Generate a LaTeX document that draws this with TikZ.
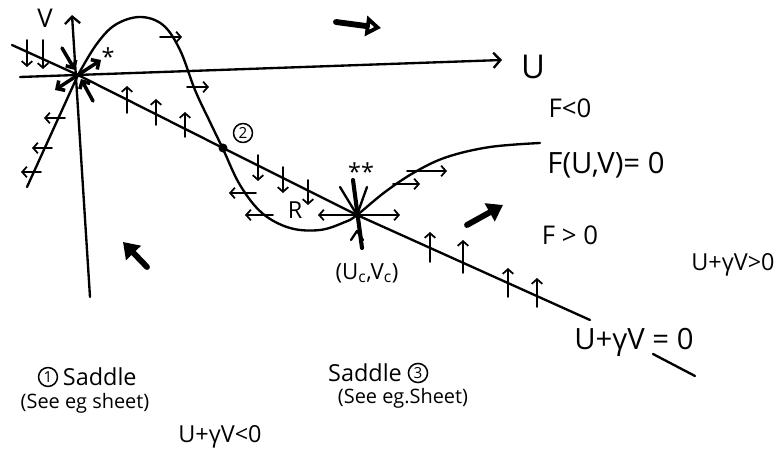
\documentclass[tikz,border=0pt]{standalone}
\usepackage{fontspec}
\setmainfont{Open Sans}
\usetikzlibrary{arrows.meta,positioning}

\begin{document}
\begin{tikzpicture}[
        x=0.03cm, y=-0.03cm,
        line width=2pt, line cap=round, line join=round,
        axis/.style={-{Straight Barb[length=6pt,width=13pt]}},
        flow/.style={-{Straight Barb[length=4pt,width=9pt]}, line width=1.5pt},
        stubby/.style={-{Straight Barb[length=5pt,width=10pt]}, line width=3pt},
        bold/.style={-{Triangle[length=13pt,width=17pt]}, line width=5pt},
        every node/.style={inner sep=1pt},
        lbl/.style={font=\fontsize{20}{22}\selectfont},
        big/.style={font=\fontsize{25}{28}\selectfont},
        small/.style={font=\fontsize{17}{19}\selectfont},
        circ/.style={circle, draw, line width=1.3pt, inner sep=1.5pt, font=\fontsize{13}{14}\selectfont}
    ]
    \useasboundingbox (0,0) rectangle (777,455);

    % fixed points
    \coordinate (o) at (78,75);
    \coordinate (p2) at (223,148);
    \coordinate (c) at (357,215);

    % axes
    \coordinate (uL) at (20,77);
    \coordinate (uR) at (502,60);
    \coordinate (vB) at (90,297);
    \coordinate (vT) at (72,15);
    \draw[axis] (uL) -- (uR);
    \draw[axis] (vB) -- (vT);
    \node[font=\fontsize{28}{30}\selectfont] (ulab) at (533,67) {U};
    \node[font=\fontsize{22}{24}\selectfont] (vlab) at (45,18) {V};

    % line u + gamma v = 0 and eigen line
    \coordinate (lA) at (12,45);
    \coordinate (lB) at (590,320);
    \coordinate (eB) at (27,187);
    \draw (lA) -- (o) -- (p2) -- (c) -- (lB);
    \draw (eB) -- (o);

    % F(u,v) = 0
    \draw plot[smooth, tension=0.6] coordinates {(78,75) (96,45) (115,25) (140,17) (163,25) (180,50) (195,90) (210,122) (223,149) (240,185) (262,213) (290,228) (320,230) (345,222) (357,215) (385,192) (415,172) (447,157) (490,147) (540,143)};

    \fill (p2) circle (4.5);
    \node[circ] (n2) at (243,133) {2};

    % saddle at the origin
    \draw[stubby] (o) -- (55,90);
    \draw[stubby] (o) -- (101,60);
    \draw[stubby] (62,48) -- (75,70);
    \draw[stubby] (93,101) -- (81,79);
    \node[lbl] (st1) at (108,57) {*};

    % saddle at (uc,vc)
    \draw[line width=3.5pt] (353,180) -- (362,248);
    \draw (340,187) -- (c) -- (367,187);
    \draw (351,240) -- (357,231) -- (363,240);
    \draw[flow] (c) -- (318,215);
    \draw[flow] (c) -- (400,215);
    \node[lbl] (st2) at (361,172) {**};

    % flow on the axes and lines
    \draw[flow] (27,40) -- (27,67);
    \draw[flow] (43,40) -- (43,69);
    \draw[flow] (65,118) -- (44,118);
    \draw[flow] (52,148) -- (32,148);
    \draw[flow] (41,172) -- (21,172);
    \draw[flow] (127,113) -- (127,86);
    \draw[flow] (156,125) -- (156,99);
    \draw[flow] (185,137) -- (185,112);
    \draw[flow] (258,155) -- (258,181);
    \draw[flow] (283,167) -- (283,193);
    \draw[flow] (308,180) -- (308,205);
    \draw[flow] (430,262) -- (430,232);
    \draw[flow] (463,273) -- (463,240);
    \draw[flow] (508,297) -- (508,268);
    \draw[flow] (537,307) -- (537,278);

    % flow on F = 0
    \draw[flow] (160,37) -- (182,37);
    \draw[flow] (187,87) -- (209,87);
    \draw[flow] (256,193) -- (229,193);
    \draw[flow] (273,215) -- (245,215);
    \draw[flow] (393,184) -- (420,184);
    \draw[flow] (407,171) -- (447,171);
    \node[lbl] (rlab) at (295,210) {R};

    % big arrows
    \draw[bold, -{Triangle[open, length=13pt, width=17pt]}] (336,22) -- (381,28);
    \draw[bold] (147,267) -- (123,242);
    \draw[bold] (467,225) -- (503,205);

    % labels
    \node[font=\fontsize{22}{24}\selectfont] (fneg) at (570,108) {F<0};
    \node[big] (feq) at (606,165) {F(U,V)= 0};
    \node[font=\fontsize{22}{24}\selectfont] (fpos) at (570,235) {F > 0};
    \node[lbl] (pos) at (733,265) {U+γV>0};
    \node[font=\fontsize{19}{21}\selectfont] (cpt) at (367,273) {(U\textsubscript{c},V\textsubscript{c})};
    \node[big] (zero) at (634,342) {U+γV = 0};
    \draw (653,354) -- (695,376);

    \node[circ] (n1) at (48,377) {1};
    \node[lbl, right=2pt of n1] (s1) {Saddle};
    \node[small] (eg1) at (85,403) {(See eg sheet)};
    \node[lbl] (neg) at (220,437) {U+γV<0};
    \node[lbl] (s3) at (365,373) {Saddle};
    \node[circ, right=3pt of s3] (n3) {3};
    \node[small] (eg3) at (403,398) {(See eg.Sheet)};
\end{tikzpicture}
\end{document}
